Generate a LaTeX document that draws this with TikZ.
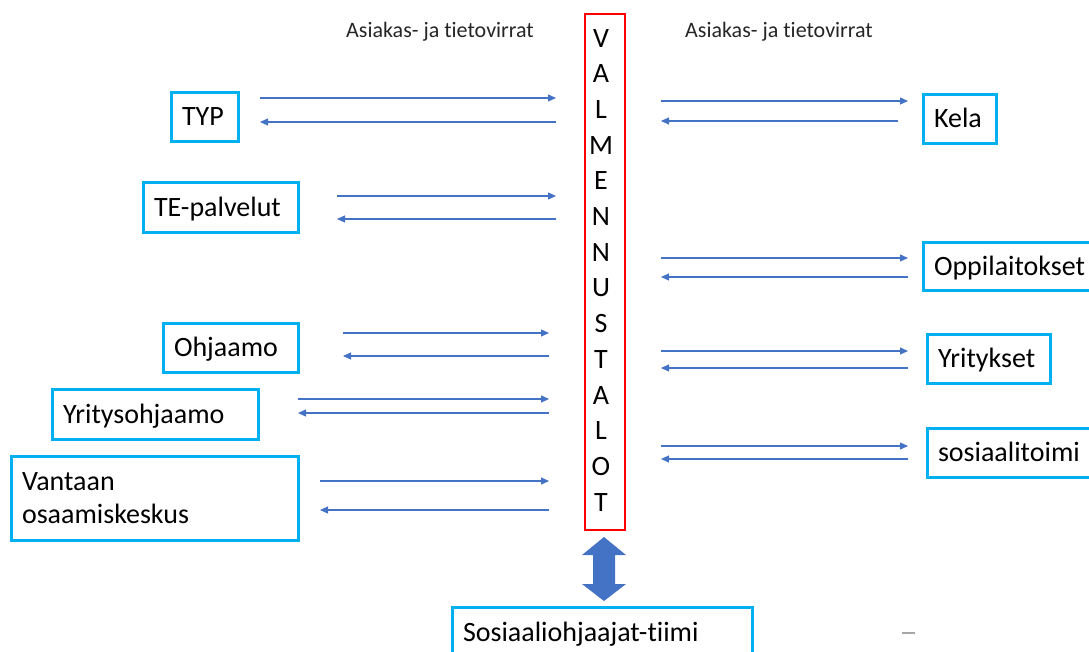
\documentclass[tikz,border=0pt]{standalone}
\usepackage{fontspec}
\setmainfont{Carlito}[Ligatures={NoCommon}]
\usetikzlibrary{arrows.meta}
\definecolor{boxcyan}{HTML}{00B0F0}
\definecolor{arrblue}{HTML}{4472C4}
\definecolor{hdrgray}{HTML}{262626}
\begin{document}
\begin{tikzpicture}[x=1pt,y=-1pt,
  box/.style={draw=boxcyan, line width=3pt, inner xsep=11pt, inner ysep=0pt,
    align=left, font=\fontsize{28}{33}\selectfont},
  one/.style={text height=20pt, text depth=2pt},
  arr/.style={draw=arrblue, line width=1.1pt, -{Triangle[length=8pt,width=7pt]}},
  hdr/.style={font=\fontsize{22}{26}\selectfont, text=hdrgray, inner sep=0pt, anchor=base},
  letter/.style={font=\fontsize{28}{30}\selectfont, inner sep=0pt, anchor=base},
  column/.style={draw=red, line width=2pt, inner sep=0pt},
  dblarrow/.style={fill=arrblue}]
\clip (0,0) rectangle (1089,651);
\fill[white] (0,0) rectangle (1089,651);

% headers
\node[hdr] (hleft) at (440,37) {Asiakas- ja tietovirrat};
\node[hdr] (hright) at (779,37) {Asiakas- ja tietovirrat};

% central column
\node[column, minimum width=40pt, minimum height=516pt] (valm) at (605,272) {};
\foreach \l [count=\i from 0] in {V,A,L,M,E,N,N,U,S,T,A,L,O,T}
  \node[letter] (v\i) at (601,{47+35.7*\i}) {\l};

% left boxes
\node[box, one, minimum width=67pt, minimum height=49pt, text width=45pt] (typ) at (204.5,116.5) {TYP};
\node[box, one, minimum width=155pt, minimum height=50pt, text width=133pt] (te) at (220.5,207) {TE-palvelut};
\node[box, one, minimum width=135pt, minimum height=49pt, text width=113pt] (ohj) at (230.5,347.5) {Ohjaamo};
\node[box, one, minimum width=206pt, minimum height=50pt, text width=184pt] (yoh) at (155,414) {Yritysohjaamo};
\node[box, minimum width=287pt, minimum height=84pt, text width=265pt] (van) at (154.5,498) {Vantaan\\osaamiskeskus};

% right boxes
\node[box, one, minimum width=73pt, minimum height=49pt, text width=51pt] (kela) at (959.5,118.5) {Kela};
\node[box, one, minimum width=175pt, minimum height=48pt, text width=153pt] (opp) at (1010.5,266) {Oppilaitokset};
\node[box, one, minimum width=123pt, minimum height=49pt, text width=101pt] (yri) at (988.5,358.5) {Yritykset};
\node[box, one, minimum width=175pt, minimum height=49pt, text width=153pt] (sos) at (1014.5,452.5) {sosiaalitoimi};

% bottom box
\node[box, one, minimum width=300pt, minimum height=50pt, text width=278pt] (tiimi) at (602,632) {Sosiaaliohjaajat-tiimi};

% arrow pairs: name / start / end / y forward / y back / start of back arrow
\foreach \n/\xa/\xb/\ya/\yb/\xc in {
    typ/260/556/98/122/556,
    te/337/556/196/219/556,
    ohj/343/549/333/356/549,
    yoh/298/549/399/413/549,
    van/320/549/481/510/549,
    kela/661/908/101/121/898,
    opp/661/908/258/277/908,
    yri/661/908/351/368/908,
    sos/661/908/446/459/908}{
  \coordinate (\n-a) at (\xa,\ya);
  \coordinate (\n-b) at (\xb,\ya);
  \coordinate (\n-c) at (\xc,\yb);
  \coordinate (\n-d) at (\xa,\yb);
  \draw[arr] (\n-a) -- (\n-b);
  \draw[arr] (\n-c) -- (\n-d);
}

% double block arrow between column and team
\fill[dblarrow] (604,537) -- (626,555) -- (615,555) -- (615,584) -- (626,584)
  -- (604,601) -- (582,584) -- (593,584) -- (593,555) -- (582,555) -- cycle;

% small grey dash
\coordinate (dash-a) at (902,633);
\coordinate (dash-b) at (915,633);
\draw[gray!70, line width=2pt] (dash-a) -- (dash-b);
\end{tikzpicture}
\end{document}
